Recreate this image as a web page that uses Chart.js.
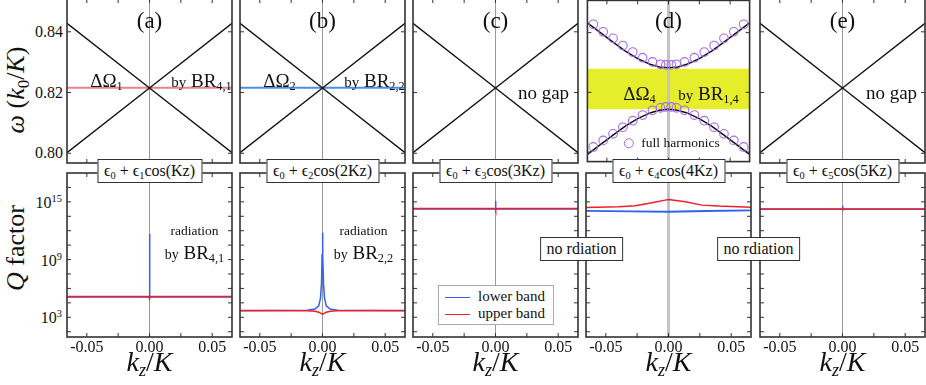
<!DOCTYPE html>
<html>
<head>
<meta charset="utf-8">
<script src="https://cdn.jsdelivr.net/npm/chart.js@4.4.1/dist/chart.umd.min.js"></script>
<style>
  body { margin: 0; background: #fff; }
  #fig { position: relative; width: 926px; height: 385px; overflow: hidden;
         font-family: "Liberation Serif", "Times New Roman", serif; color: #111; }
  #fig canvas { position: absolute; }
  .t { position: absolute; white-space: nowrap; transform: translate(-50%, -50%); line-height: 1; }
  .r { transform: translate(-100%, -50%); }
  .rot { transform: translate(-50%, -50%) rotate(-90deg); }
  sub { font-size: 65%; vertical-align: -0.3em; line-height: 0; }
  sup { font-size: 65%; vertical-align: 0.55em; line-height: 0; }
  .box { background: #fff; border: 1.5px solid #333; padding: 3px 6px; }
  .key { display: inline-block; width: 25px; height: 1.6px; vertical-align: middle; margin-right: 8px; }
  i { font-style: italic; }
</style>
</head>
<body>
<div id="fig"></div>
<script>
// ---- data ----
const kzMin = -0.0658, kzMax = 0.0658;
const panelTags = ['(a)', '(b)', '(c)', '(d)', '(e)'];
const modTerms = ['Kz', '2Kz', '3Kz', '4Kz', '5Kz'];
const xTicks = [-0.05, -0.025, 0, 0.025, 0.05];
const xTickLabels = ['-0.05', '0.00', '0.05'];
const xLabelAt = [-0.05, 0, 0.05];
const omegaTicks = [0.80, 0.82, 0.84];
const omegaTickLabels = ['0.80', '0.82', '0.84'];
const qTickExp = [1.5, 3, 4.5, 6, 7.5, 9, 10.5, 12, 13.5, 15, 16.5];
const qLabelExp = [3, 9, 15];

// light lines (panels a, b, c, e)
const lightK = [-0.0658, 0, 0.0658];
const lightUp = [0.8002, 0.8215, 0.8428];
const lightDown = [0.8428, 0.8215, 0.8002];
// tiny gaps in (a) and (b)
const gapK = [-0.0658, 0.0658];
const gapA = [0.8216, 0.8216];
const gapB = [0.8216, 0.8216];
// gap band in (d)
const bandTop = [0.8279, 0.8279];
const bandBottom = [0.8143, 0.8143];
const dK = [-0.0658, -0.055, -0.045, -0.035, -0.025, -0.015, -0.0075, 0, 0.0075, 0.015, 0.025, 0.035, 0.045, 0.055, 0.0658];
const dUpper = [0.8433, 0.8399, 0.8368, 0.8338, 0.8313, 0.8294, 0.8285, 0.8282, 0.8285, 0.8294, 0.8313, 0.8338, 0.8368, 0.8399, 0.8433];
const dLower = [0.7992, 0.8026, 0.8057, 0.8087, 0.8112, 0.8131, 0.8140, 0.8143, 0.8140, 0.8131, 0.8112, 0.8087, 0.8057, 0.8026, 0.7992];
const fullK = [-0.061, -0.053, -0.045, -0.037, -0.029, -0.021, -0.013, -0.0065, -0.0022, 0.0022, 0.0065, 0.013, 0.021, 0.029, 0.037, 0.045, 0.053, 0.061];
const fullUpper = [0.8428, 0.8403, 0.8381, 0.8357, 0.8335, 0.8316, 0.8302, 0.8294, 0.8292, 0.8292, 0.8294, 0.8302, 0.8316, 0.8335, 0.8357, 0.8381, 0.8403, 0.8428];
const fullLower = [0.8017, 0.8039, 0.8061, 0.8083, 0.8105, 0.8124, 0.8140, 0.8148, 0.8151, 0.8151, 0.8148, 0.8140, 0.8124, 0.8105, 0.8083, 0.8061, 0.8039, 0.8017];

// Q factor, as log10(Q)
const spikeK = [-0.0658, -0.0003, 0, 0.0003, 0.0658];
const qLowA = [5.12, 5.12, 11.65, 5.12, 5.12];
const qUpA = [5.16, 5.16, 4.85, 5.16, 5.16];
const qK_b = [-0.0658, -0.012, -0.006, -0.003, -0.0016, -0.0008, -0.0003, 0, 0.0003, 0.0008, 0.0016, 0.003, 0.006, 0.012, 0.0658];
const qLowB = [3.68, 3.72, 3.85, 4.2, 5.0, 6.5, 9.5, 11.8, 9.5, 6.5, 5.0, 4.2, 3.85, 3.72, 3.68];
const qUpB = [3.70, 3.68, 3.62, 3.52, 3.44, 3.38, 3.35, 3.34, 3.35, 3.38, 3.44, 3.52, 3.62, 3.68, 3.70];
const qLowC = [14.27, 14.27, 15.1, 14.27, 14.27];
const qUpC = [14.32, 14.32, 14.1, 14.32, 14.32];
const qK_dUp = [-0.0658, -0.0398, -0.0265, -0.0132, -0.0026, 0, 0.0134, 0.0267, 0.04, 0.0658];
const qUpD = [14.42, 14.49, 14.59, 14.9, 15.18, 15.25, 15.0, 14.66, 14.56, 14.45];
const qK_dLow = [-0.0658, -0.03, 0, 0.03, 0.0658];
const qLowD = [14.07, 14.02, 13.97, 14.05, 14.12];
const qLowE = [14.23, 14.23, 14.6, 14.23, 14.23];
const qUpE = [14.26, 14.26, 14.2, 14.26, 14.26];

// ---- layout ----
const PAD = 4;
const panelLeft = [67, 240, 413, 586, 760];
const panelW = 165;
const topRow = { top: -1, h: 164 };
const botRow = { top: 173, h: 164 };
const omegaMin = 0.7968, omegaMax = 0.8508;
const qMinExp = 0.95, qMaxExp = 18;

const BLUE = '#2f62f0', RED = '#f01e28';
const fig = document.getElementById('fig');

const pts = (xs, ys) => xs.map((x, i) => ({ x, y: ys[i] }));
const qpts = (xs, es) => xs.map((x, i) => ({ x, y: Math.pow(10, es[i]) }));

// box + inward ticks on all four sides
const framePlugin = {
  id: 'frame',
  afterDraw(chart, args, opts) {
    const { ctx, chartArea: a, scales: { x, y } } = chart;
    const L = 4;
    ctx.save();
    ctx.strokeStyle = '#333';
    ctx.lineWidth = 1;
    ctx.beginPath();
    opts.xTicks.forEach(v => {
      const p = x.getPixelForValue(v);
      ctx.moveTo(p, a.bottom); ctx.lineTo(p, a.bottom - L);
      ctx.moveTo(p, a.top); ctx.lineTo(p, a.top + L);
    });
    opts.yTicks.forEach(v => {
      const p = y.getPixelForValue(v);
      ctx.moveTo(a.left, p); ctx.lineTo(a.left + L, p);
      ctx.moveTo(a.right, p); ctx.lineTo(a.right - L, p);
    });
    ctx.stroke();
    ctx.lineWidth = 1.6;
    ctx.strokeRect(a.left, a.top, a.right - a.left, a.bottom - a.top);
    ctx.restore();
  }
};

function makeCanvas(left, top, w, h) {
  const c = document.createElement('canvas');
  c.width = w + 2 * PAD;
  c.height = h + 2 * PAD;
  c.style.left = (left - PAD) + 'px';
  c.style.top = (top - PAD) + 'px';
  fig.appendChild(c);
  return c;
}

function label(html, x, y, size, cls) {
  const d = document.createElement('div');
  d.className = 't' + (cls ? ' ' + cls : '');
  d.style.left = x + 'px';
  d.style.top = y + 'px';
  d.style.fontSize = size + 'px';
  d.innerHTML = html;
  fig.appendChild(d);
  return d;
}

function lineSet(data, color, width, order) {
  return { data, showLine: true, borderColor: color, borderWidth: width, pointRadius: 0, fill: false, order };
}

function midLine(yLo, yHi, wide) {
  return lineSet([{ x: 0, y: yLo }, { x: 0, y: yHi }], wide ? '#c4c4c4' : '#9a9a9a', wide ? 3 : 1, 8);
}

function makeChart(canvas, datasets, yScale, yTicks) {
  return new Chart(canvas, {
    type: 'scatter',
    data: { datasets },
    options: {
      responsive: false,
      animation: false,
      devicePixelRatio: 1,
      layout: { padding: PAD },
      plugins: { legend: { display: false }, tooltip: { enabled: false }, frame: { xTicks, yTicks } },
      scales: {
        x: { type: 'linear', min: kzMin, max: kzMax, display: false },
        y: Object.assign({ display: false }, yScale)
      }
    },
    plugins: [framePlugin]
  });
}

// ---- top row: dispersion ----
const topCharts = [];
for (let i = 0; i < 5; i++) {
  const c = makeCanvas(panelLeft[i], topRow.top, panelW, topRow.h);
  const ds = [];
  if (i === 3) {
    ds.push({ data: pts(gapK, bandTop), showLine: true, borderWidth: 0, pointRadius: 0,
              backgroundColor: '#e6ee2c', fill: '+1', order: 9 });
    ds.push({ data: pts(gapK, bandBottom), showLine: true, borderWidth: 0, pointRadius: 0, fill: false, order: 9 });
    ds.push(midLine(omegaMin, omegaMax, true));
    ds.push(lineSet(pts(dK, dUpper), '#111', 1.5, 3));
    ds.push(lineSet(pts(dK, dLower), '#111', 1.5, 3));
    ds.push({ data: pts(fullK, fullUpper).concat(pts(fullK, fullLower)), showLine: false,
              pointRadius: 4.3, pointBorderWidth: 1.1, pointBorderColor: '#a46af2',
              pointBackgroundColor: 'rgba(0,0,0,0)', order: 1 });
  } else {
    ds.push(midLine(omegaMin, omegaMax, false));
    ds.push(lineSet(pts(lightK, lightUp), '#111', 1.4, 3));
    ds.push(lineSet(pts(lightK, lightDown), '#111', 1.4, 3));
    if (i === 0) ds.push(lineSet(pts(gapK, gapA), '#e8828f', 2, 4));
    if (i === 1) ds.push(lineSet(pts(gapK, gapB), '#4a8ee6', 2, 4));
  }
  topCharts.push(makeChart(c, ds, { type: 'linear', min: omegaMin, max: omegaMax }, omegaTicks));
}

// ---- bottom row: Q factor ----
const qMin = Math.pow(10, qMinExp), qMax = Math.pow(10, qMaxExp);
const qSeries = [
  [qpts(spikeK, qLowA), qpts(spikeK, qUpA)],
  [qpts(qK_b, qLowB), qpts(qK_b, qUpB)],
  [qpts(spikeK, qLowC), qpts(spikeK, qUpC)],
  [qpts(qK_dLow, qLowD), qpts(qK_dUp, qUpD)],
  [qpts(spikeK, qLowE), qpts(spikeK, qUpE)]
];
const botCharts = [];
for (let i = 0; i < 5; i++) {
  const c = makeCanvas(panelLeft[i], botRow.top, panelW, botRow.h);
  const ds = [
    midLine(qMin, qMax, i === 3),
    lineSet(qSeries[i][0], BLUE, i === 3 ? 1.8 : 1.5, 3),
    lineSet(qSeries[i][1], RED, 1.5, 2)
  ];
  botCharts.push(makeChart(c, ds, { type: 'logarithmic', min: qMin, max: qMax },
                           qTickExp.map(e => Math.pow(10, e))));
}

// ---- tick labels placed through the chart scales ----
omegaTicks.forEach((v, k) => {
  const y = topRow.top - PAD + topCharts[0].scales.y.getPixelForValue(v);
  label(omegaTickLabels[k], panelLeft[0] - 4, y, 16, 'r');
});
qLabelExp.forEach(e => {
  const y = botRow.top - PAD + botCharts[0].scales.y.getPixelForValue(Math.pow(10, e));
  label('10<sup>' + e + '</sup>', panelLeft[0] - 5, y + 1, 16, 'r');
});
botCharts.forEach((ch, i) => {
  xLabelAt.forEach((v, k) => {
    const x = panelLeft[i] - PAD + ch.scales.x.getPixelForValue(v);
    label(xTickLabels[k], x, botRow.top + botRow.h + 10, 16);
  });
  const cx = panelLeft[i] + panelW / 2;
  label('<i>k<sub>z</sub></i>/<i>K</i>', cx, 362, 28);
  label('ϵ<sub>0</sub> + ϵ<sub>' + (i + 1) + '</sub>cos(' + modTerms[i] + ')', cx, 171, 16, 'box');
  label(panelTags[i], cx, 20, 23);
});

// ---- annotations ----
const cxs = panelLeft.map(l => l + panelW / 2);
label('ΔΩ<sub>1</sub>', cxs[0] - 43, 80, 19);
label('<span style="font-size:15px">by</span> BR<sub>4,1</sub>', cxs[0] + 52, 80, 19);
label('ΔΩ<sub>2</sub>', cxs[1] - 43, 80, 19);
label('<span style="font-size:15px">by</span> BR<sub>2,2</sub>', cxs[1] + 52, 80, 19);
label('no gap', cxs[2] + 48, 92, 19);
label('no gap', cxs[4] + 49, 92, 19);
label('ΔΩ<sub>4</sub>', cxs[3] - 29, 93, 19);
label('<span style="font-size:15px">by</span> BR<sub>1,4</sub>', cxs[3] + 40, 93, 19);
label('<span style="display:inline-block;width:8px;height:8px;border:1.1px solid #a46af2;border-radius:50%;margin-right:8px;vertical-align:-1px"></span>full harmonics', cxs[3] + 3, 143, 13.5);

label('radiation', cxs[0] + 45, 231, 13.5);
label('<span style="font-size:14px">by</span> BR<sub>4,1</sub>', cxs[0] + 45, 252, 19);
label('radiation', cxs[1] + 41, 231, 13.5);
label('<span style="font-size:14px">by</span> BR<sub>2,2</sub>', cxs[1] + 41, 252, 19);

label('no rdiation', 581.5, 249, 16, 'box');
label('no rdiation', 758.5, 249, 16, 'box');

label('<div style="background:#fff;border:1px solid #aaa;padding:2px 8px 2px 6px;line-height:17px">' +
      '<div><span class="key" style="background:' + BLUE + '"></span>lower band</div>' +
      '<div><span class="key" style="background:' + RED + '"></span>upper band</div></div>',
      496, 305, 15);

// axis titles
label('<i>ω</i> (<i>k</i><sub>0</sub>/<i>K</i>)', 16, 90, 26, 'rot');
label('<i>Q</i> factor', 16, 248, 26, 'rot');
</script>
</body>
</html>
